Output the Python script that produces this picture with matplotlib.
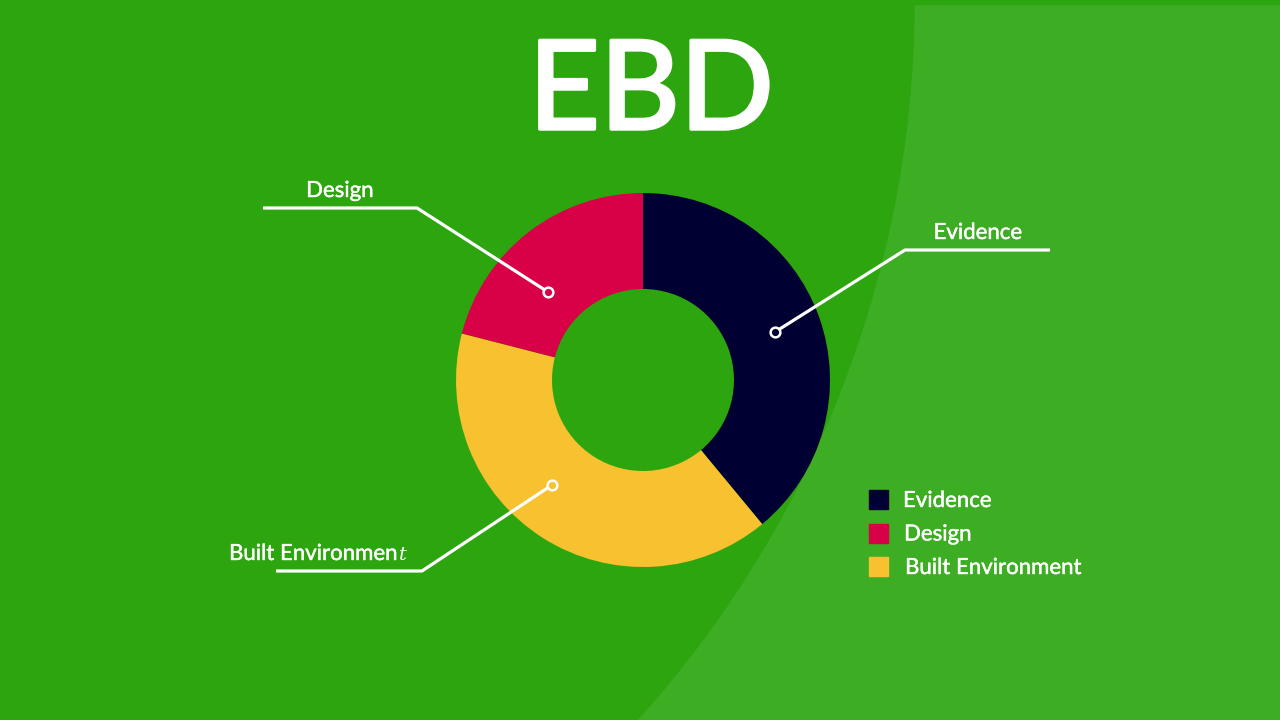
import matplotlib
matplotlib.use("Agg")
import matplotlib.pyplot as plt
import matplotlib.patheffects as pe
from matplotlib.patches import Circle, Rectangle

plt.rcParams['font.family'] = ['Lato', 'DejaVu Sans']

# data
labels = ["Evidence", "Built Environment", "Design"]
values = [39, 40, 21]
colors = ["#000033", "#f7c12f", "#d80046"]
legend_order = ["Evidence", "Design", "Built Environment"]

W, H = 1280, 720
bg_dark = "#2ca50f"
bg_light = "#3dae23"

fig = plt.figure(figsize=(12.8, 7.2), dpi=100)
ax = fig.add_axes([0, 0, 1, 1])
ax.set_xlim(0, W)
ax.set_ylim(0, H)
ax.set_aspect('equal')
ax.axis('off')
fig.patch.set_facecolor(bg_light)

def Y(y):
    # image pixel row -> data y
    return H - y

# background: big arc splitting the two greens
ax.add_patch(Circle((-160, Y(0)), 1074, color=bg_dark, zorder=0))
ax.add_patch(Rectangle((0, Y(4)), W, 4, color=bg_dark, zorder=0))

# donut
wedges, _ = ax.pie(values, colors=colors, startangle=90, counterclock=False,
                   center=(643, Y(380)), radius=187,
                   wedgeprops=dict(width=96, linewidth=0), frame=True)
ax.set_xlim(0, W)
ax.set_ylim(0, H)
ax.axis('off')

# title (a thin white stroke to get the heavier look)
ax.text(651, Y(129), "EBD", color="white", fontsize=89,
        ha='center', va='baseline', zorder=5,
        path_effects=[pe.withStroke(linewidth=2.5, foreground="white")])

# leader lines
col_of = dict(zip(labels, colors))
leaders = {
    "Design": [(548, 292), (417, 208), (263, 208)],
    "Evidence": [(775, 332), (905, 250), (1050, 250)],
    "Built Environment": [(552, 485), (422, 571), (276, 571)],
}
for name, pts in leaders.items():
    xs = [p[0] for p in pts]
    ys = [Y(p[1]) for p in pts]
    ax.plot(xs, ys, color="white", lw=2.3, solid_capstyle='butt', zorder=4)
    ax.plot(xs[0], ys[0], 'o', ms=7, mfc=col_of[name], mec="white",
            mew=1.8, zorder=6)

lab_fs = 16
thick = [pe.withStroke(linewidth=0.3, foreground="white")]
ax.text(340, Y(197), "Design", color="white", fontsize=lab_fs,
        ha='center', va='baseline', zorder=5, path_effects=thick)
ax.text(978, Y(239), "Evidence", color="white", fontsize=lab_fs,
        ha='center', va='baseline', zorder=5, path_effects=thick)
t1 = ax.text(229, Y(560), "Built Environmen", color="white", fontsize=lab_fs,
             ha='left', va='baseline', zorder=5, path_effects=thick)
fig.canvas.draw()
bb = t1.get_window_extent()
ax.text(bb.x1 + 1, Y(560), "t", color="white", fontsize=lab_fs - 2,
        ha='left', va='baseline', family='DejaVu Serif', style='italic',
        zorder=5)

# legend
for i, name in enumerate(legend_order):
    top = 490 + i * 33.5
    ax.add_patch(Rectangle((869, Y(top + 19)), 19, 19, color=col_of[name],
                           zorder=5))
    ax.text(903 + i, Y(top + 17), name, color="white", fontsize=lab_fs,
            ha='left', va='baseline', zorder=5, path_effects=thick)

fig.savefig("out.png", dpi=100, facecolor=fig.get_facecolor())
